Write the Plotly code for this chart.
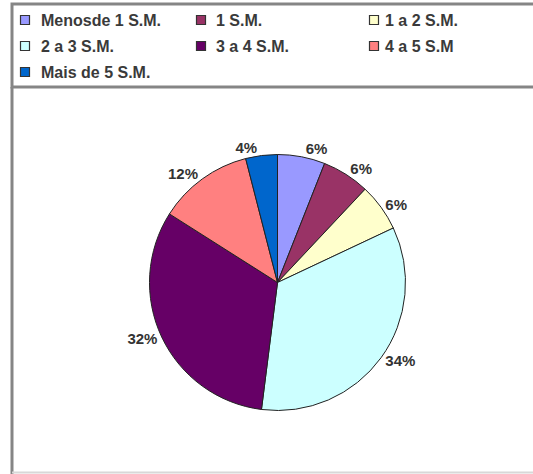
import plotly.graph_objects as go

# ---- data ----
categories = ["Menosde 1 S.M.", "1 S.M.", "1 a 2 S.M.", "2 a 3 S.M.",
              "3 a 4 S.M.", "4 a 5 S.M", "Mais de 5 S.M."]
values = [6, 6, 6, 34, 32, 12, 4]
colors = ["#9999FF", "#993366", "#FFFFCC", "#CCFFFF", "#660066", "#FF8080", "#0066CC"]

W, H = 533, 474


def px(x):
    return x / W


def py(y):
    return 1 - y / H


cx, cy, r = 277.5, 282.5, 128

fig = go.Figure()
fig.add_trace(go.Pie(
    labels=categories,
    values=values,
    sort=False,
    direction="clockwise",
    rotation=0,
    marker=dict(colors=colors, line=dict(color="#222222", width=1)),
    texttemplate="%{percent:.0%}",
    textposition="outside",
    textfont=dict(family="Liberation Sans, Arial, sans-serif", size=15,
                  color="#333333", weight="bold"),
    domain=dict(x=[px(cx - r), px(cx + r)], y=[py(cy + r), py(cy - r)]),
    showlegend=False,
    hoverinfo="label+percent",
))

shapes = []
annotations = []
# frame
shapes.append(dict(type="rect", xref="paper", yref="paper",
                   x0=px(12), x1=px(545), y0=py(87), y1=py(4),
                   line=dict(color="#858585", width=3), fillcolor="rgba(0,0,0,0)"))
shapes.append(dict(type="line", xref="paper", yref="paper",
                   x0=px(12), x1=px(12), y0=py(87), y1=py(476),
                   line=dict(color="#858585", width=3)))
shapes.append(dict(type="line", xref="paper", yref="paper",
                   x0=px(12), x1=px(535), y0=py(472.5), y1=py(472.5),
                   line=dict(color="#d8d8d8", width=2)))

# legend (built from the category / colour lists)
col_marker = [25, 201, 374]
col_text = [39, 214, 383]
row_y = [20, 46, 72]
for i, (name, c) in enumerate(zip(categories, colors)):
    row, col = divmod(i, 3)
    mx, my = col_marker[col], row_y[row]
    shapes.append(dict(type="rect", xref="paper", yref="paper",
                       x0=px(mx - 4.5), x1=px(mx + 4.5), y0=py(my + 4.5), y1=py(my - 4.5),
                       fillcolor=c, line=dict(color="#333333", width=1.2)))
    annotations.append(dict(xref="paper", yref="paper", x=px(col_text[col]), y=py(my),
                            xanchor="left", yanchor="middle", showarrow=False,
                            text="<b>%s</b>" % name,
                            font=dict(family="Liberation Sans, Arial, sans-serif",
                                      size=16, color="#3a3a3a")))

fig.update_layout(
    width=W, height=H,
    margin=dict(l=0, r=0, t=0, b=0),
    paper_bgcolor="white", plot_bgcolor="white",
    shapes=shapes, annotations=annotations,
)

fig.write_html("out.html")
